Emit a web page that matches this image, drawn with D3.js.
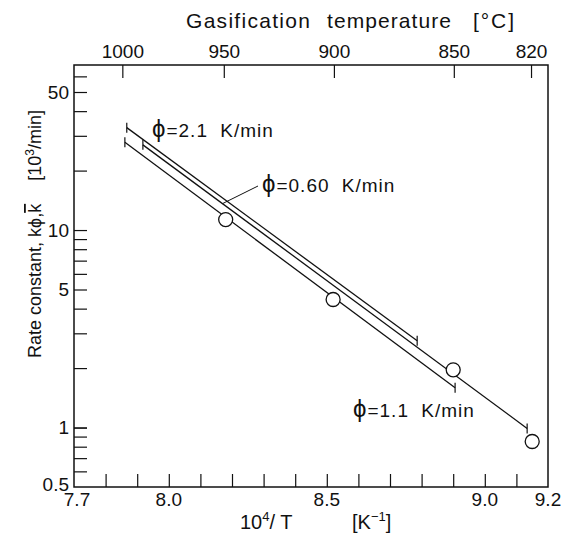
<!DOCTYPE html>
<html>
<head>
<meta charset="utf-8">
<script src="https://cdn.jsdelivr.net/npm/d3@7"></script>
<style>
  html, body { margin: 0; padding: 0; background: #fff; }
  text { font-family: "Liberation Sans", Arial, sans-serif; fill: #111; }
</style>
</head>
<body>
<div id="chart"></div>
<script>
// x values are 10^4/T [1/K], y values are rate constants [10^3/min]
const xLabelTicks = [7.7, 8.0, 8.5, 9.0, 9.2];
const xMinorTicks = [7.8, 7.9, 8.1, 8.2, 8.3, 8.4, 8.6, 8.7, 8.8, 8.9, 9.1];
const yLabelTicks = [0.5, 1, 5, 10, 50];
const yMinorTicks = [0.6, 0.7, 0.8, 0.9, 1, 2, 3, 4, 6, 7, 8, 9, 20, 30, 40, 60];
const tempTicks = [1000, 950, 900, 850, 820];   // deg C on the top axis

// measured k-bar (circles)
const pointX = [8.18, 8.52, 8.90, 9.15];
const pointK = [11.3, 4.45, 1.96, 0.85];

// fitted lines for each heating rate, [start, end]
const phiRates = ["2.1", "0.60", "1.1"];
const lineX = [[7.867, 8.786], [7.918, 9.134], [7.861, 8.906]];
const lineK = [[33.0, 2.75], [27.0, 0.99], [27.8, 1.59]];

const W = 565, H = 537;
const plotL = 74, plotR = 548, plotT = 65, plotB = 487;
const tickLen = 13;

const svg = d3.select("#chart").append("svg")
    .attr("width", W)
    .attr("height", H);

const x = d3.scaleLinear().domain([7.7, 9.2]).range([plotL, plotR]);
const y = d3.scaleLog().domain([0.5, 68.5]).range([plotB, plotT]);

// Frame
svg.append("rect")
    .attr("x", plotL).attr("y", plotT)
    .attr("width", plotR - plotL).attr("height", plotB - plotT)
    .attr("fill", "none").attr("stroke", "#111").attr("stroke-width", 1.5);

// Bottom axis, ticks pointing in
const xAll = xLabelTicks.concat(xMinorTicks).filter(d => d > 7.7 && d < 9.2);
svg.append("g")
    .attr("transform", `translate(0,${plotB})`)
    .call(d3.axisTop(x).tickValues(xAll).tickSize(tickLen).tickFormat(""))
    .call(g => g.select(".domain").remove())
    .selectAll("line").attr("stroke", "#111").attr("stroke-width", 1.2);

svg.append("g").selectAll("text")
    .data(xLabelTicks)
    .enter().append("text")
    .attr("x", d => x(d) + (d === 7.7 ? 3 : 0))
    .attr("y", plotB + 19)
    .attr("text-anchor", "middle")
    .style("font-size", "19px")
    .text(d => d.toFixed(1));

// Left axis (log), ticks pointing in
svg.append("g")
    .attr("transform", `translate(${plotL},0)`)
    .call(d3.axisRight(y).tickValues(yMinorTicks.concat(yLabelTicks).filter(d => d > 0.5)).tickSize(tickLen).tickFormat(""))
    .call(g => g.select(".domain").remove())
    .selectAll("line").attr("stroke", "#111").attr("stroke-width", 1.2);

svg.append("g").selectAll("text")
    .data(yLabelTicks)
    .enter().append("text")
    .attr("x", plotL - 5)
    .attr("y", d => y(d) - (d === 0.5 ? 3 : 0))
    .attr("dy", "0.35em")
    .attr("text-anchor", "end")
    .style("font-size", "19px")
    .text(d => d);

// Top axis: gasification temperature
const tempX = t => x(1e4 / (t + 273.15));
svg.append("g").selectAll("line")
    .data(tempTicks)
    .enter().append("line")
    .attr("x1", tempX).attr("x2", tempX)
    .attr("y1", plotT).attr("y2", plotT + tickLen)
    .attr("stroke", "#111").attr("stroke-width", 1.2);

svg.append("g").selectAll("text")
    .data(tempTicks)
    .enter().append("text")
    .attr("x", tempX)
    .attr("y", plotT - 7)
    .attr("text-anchor", "middle")
    .style("font-size", "19px")
    .text(d => d);

// Axis titles
const titleWords = [["Gasification", 186, 124], ["temperature", 327, 124], ["[°C]", 473, 41]];
svg.append("g").selectAll("text")
    .data(titleWords)
    .enter().append("text")
    .attr("x", d => d[1]).attr("y", 28)
    .attr("textLength", d => d[2])
    .attr("lengthAdjust", "spacing")
    .style("font-size", "21px")
    .text(d => d[0]);

const xTitle = svg.append("text")
    .attr("x", 240).attr("y", 529)
    .style("font-size", "20px");
xTitle.append("tspan").text("10");
xTitle.append("tspan").attr("dy", -8).style("font-size", "13px").text("4");
xTitle.append("tspan").attr("dy", 8).text("/ T");
xTitle.append("tspan").attr("x", 352).text("[K");
xTitle.append("tspan").attr("dy", -8).style("font-size", "13px").text("−1");
xTitle.append("tspan").attr("dy", 8).text("]");

// y title, rotated: origin at the bottom end of the text
const yTitleG = svg.append("g").attr("transform", "translate(41,358) rotate(-90)");
const yTitle = yTitleG.append("text").style("font-size", "18px");
yTitle.append("tspan").text("Rate constant, kϕ,");
yTitle.append("tspan").style("text-decoration", "overline").text("k");
const yUnit = yTitleG.append("text")
    .attr("x", 248).attr("text-anchor", "end")
    .style("font-size", "18px");
yUnit.append("tspan").text("[10");
yUnit.append("tspan").attr("dy", -7).style("font-size", "12px").text("3");
yUnit.append("tspan").attr("dy", 7).text("/min]");

// Lines for each heating rate, with end bars
const lineGen = d3.line().x(d => x(d[0])).y(d => y(d[1]));
phiRates.forEach((phi, i) => {
    const pts = lineX[i].map((xv, j) => [xv, lineK[i][j]]);
    svg.append("path")
        .datum(pts)
        .attr("d", lineGen)
        .attr("fill", "none")
        .attr("stroke", "#111")
        .attr("stroke-width", 1.3);
    svg.append("g").selectAll("line")
        .data(pts)
        .enter().append("line")
        .attr("x1", d => x(d[0])).attr("x2", d => x(d[0]))
        .attr("y1", d => y(d[1]) - 5).attr("y2", d => y(d[1]) + 5)
        .attr("stroke", "#111").attr("stroke-width", 1.2);
});

// Circles (k-bar)
svg.append("g").selectAll("circle")
    .data(pointX.map((xv, i) => [xv, pointK[i]]))
    .enter().append("circle")
    .attr("cx", d => x(d[0]))
    .attr("cy", d => y(d[1]))
    .attr("r", 7)
    .attr("fill", "#fff")
    .attr("stroke", "#111")
    .attr("stroke-width", 1.3);

// Labels: x, baseline y
const labelPos = [[152, 137], [262, 192], [353, 417]];
phiRates.forEach((phi, i) => {
    const lab = svg.append("text")
        .attr("x", labelPos[i][0])
        .attr("y", labelPos[i][1])
        .style("font-size", "19px");
    lab.append("tspan").style("font-size", "24px").text("ϕ");
    lab.append("tspan")
        .attr("dx", 1)
        .style("letter-spacing", "1px")
        .style("word-spacing", "6px")
        .text(`=${phi} K/min`);
});

// leader from the 0.60 label to its line
const leadX = 8.17;
const t = (leadX - lineX[1][0]) / (lineX[1][1] - lineX[1][0]);
const leadK = Math.exp(Math.log(lineK[1][0]) + t * (Math.log(lineK[1][1]) - Math.log(lineK[1][0])));
svg.append("line")
    .attr("x1", x(leadX)).attr("y1", y(leadK))
    .attr("x2", labelPos[1][0] - 4).attr("y2", labelPos[1][1] - 6)
    .attr("stroke", "#111").attr("stroke-width", 1);
</script>
</body>
</html>
